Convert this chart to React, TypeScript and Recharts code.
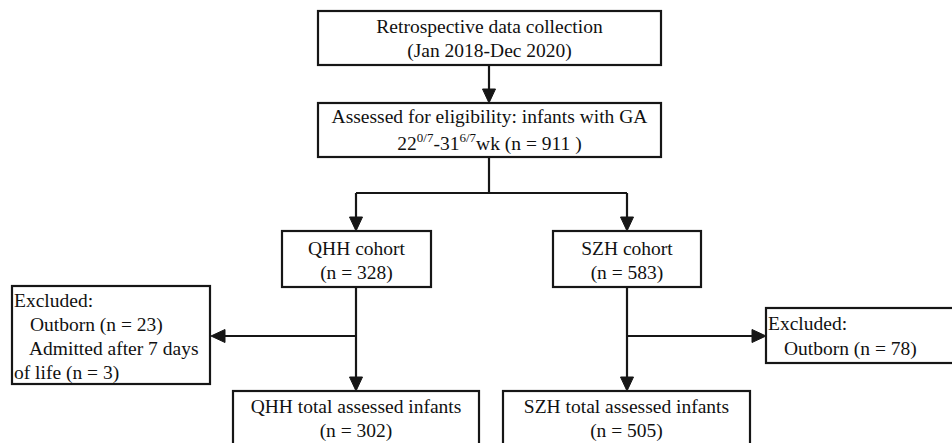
import { ScatterChart, Scatter, XAxis, YAxis, ReferenceArea, ReferenceLine } from 'recharts'

const W = 952
const H = 443
const INK = '#161616'
const FONT = 'Liberation Serif, serif'

// text of each box, one entry per line; ^{..} marks a superscript
const boxText: string[][] = [
  ['Retrospective data collection', '(Jan 2018-Dec 2020)'],
  ['Assessed for eligibility: infants with GA', '22^{0/7}-31^{6/7}wk (n = 911 )'],
  ['QHH cohort', '(n = 328)'],
  ['SZH cohort', '(n = 583)'],
  ['Excluded:', 'Outborn (n = 23)', 'Admitted after 7 days', 'of life (n = 3)'],
  ['Excluded:', 'Outborn (n = 78)'],
  ['QHH total assessed infants', '(n = 302)'],
  ['SZH total assessed infants', '(n = 505)'],
]

// box extents in chart units
const boxX: [number, number][] = [
  [318, 661], [318, 661], [282, 431], [553, 701], [12, 210], [766, 975], [233, 479], [503, 750],
]
const boxY: [number, number][] = [
  [11, 65], [103, 157], [231, 287], [231, 287], [286, 384], [308, 363], [391, 470], [391, 470],
]
const boxAlign = ['middle', 'middle', 'middle', 'middle', 'start', 'start', 'middle', 'middle']
const lineIndent: number[][] = [[], [], [], [], [2, 18, 17, 2], [2, 18], [], []]
const firstBaseline = [22, 20, 24, 24, 21, 22, 22, 22]
const lineGap = [24, 27, 24, 24, 24, 25, 24, 24]

// connector segments
const segments: [number, number, number, number][] = [
  [489, 65, 489, 95],
  [489, 157, 489, 193],
  [356, 193, 627, 193],
  [356, 193, 356, 222],
  [627, 193, 627, 222],
  [356, 287, 356, 382],
  [356, 336, 220, 336],
  [627, 287, 627, 382],
  [627, 336, 757, 336],
]

// arrow heads: tip position and direction
const arrowTips = [
  { x: 489, y: 103, dir: 'down' },
  { x: 356, y: 231, dir: 'down' },
  { x: 627, y: 231, dir: 'down' },
  { x: 211, y: 336, dir: 'left' },
  { x: 356, y: 391, dir: 'down' },
  { x: 627, y: 391, dir: 'down' },
  { x: 766, y: 336, dir: 'right' },
]

function renderLine(line: string) {
  const parts = line.split(/\^\{([^}]*)\}/)
  const out: any[] = []
  let raised = false
  parts.forEach((p, i) => {
    if (!p) return
    if (i % 2 === 1) {
      out.push(<tspan key={i} style={{ fontSize: 13 }} dy={-8}>{p}</tspan>)
      raised = true
    } else {
      out.push(<tspan key={i} dy={raised ? 8 : 0}>{p}</tspan>)
      raised = false
    }
  })
  return out
}

function BoxShape(idx: number) {
  return (props: any) => {
    const { x, y, width, height } = props
    const align = boxAlign[idx]
    const tx = align === 'middle' ? x + width / 2 : x
    return (
      <g>
        <rect x={x} y={y} width={width} height={height} fill='#fff' stroke={INK} strokeWidth={2.2} />
        {boxText[idx].map((line, li) => (
          <text
            key={li}
            x={tx + (lineIndent[idx][li] || 0)}
            y={y + firstBaseline[idx] + li * lineGap[idx]}
            textAnchor={align}
            style={{ fontFamily: FONT, fontSize: 19.5 }}
            fill='#111'
          >
            {renderLine(line)}
          </text>
        ))}
      </g>
    )
  }
}

function ArrowHead(props: any) {
  const { cx, cy, payload } = props
  const l = 14
  const w = 6.5
  let pts = ''
  if (payload.dir === 'down') pts = `${cx},${cy} ${cx - w},${cy - l} ${cx + w},${cy - l}`
  else if (payload.dir === 'left') pts = `${cx},${cy} ${cx + l},${cy - w} ${cx + l},${cy + w}`
  else pts = `${cx},${cy} ${cx - l},${cy - w} ${cx - l},${cy + w}`
  return <polygon points={pts} fill={INK} stroke={INK} strokeWidth={1} strokeLinejoin='miter' />
}

export default function App() {
  return (
    <div style={{ position: 'absolute', left: 0, top: 0, background: '#fff' }}>
      <ScatterChart width={W} height={H} margin={{ top: 0, right: 0, bottom: 0, left: 0 }}>
        <XAxis type='number' dataKey='x' domain={[0, W]} allowDataOverflow hide />
        <YAxis type='number' dataKey='y' domain={[0, H]} allowDataOverflow reversed hide />
        {segments.map((s, i) => (
          <ReferenceLine
            key={'s' + i}
            segment={[{ x: s[0], y: s[1] }, { x: s[2], y: s[3] }]}
            stroke={INK}
            strokeWidth={2.2}
            ifOverflow='visible'
          />
        ))}
        {boxText.map((_, i) => (
          <ReferenceArea
            key={'b' + i}
            x1={boxX[i][0]}
            x2={boxX[i][1]}
            y1={boxY[i][0]}
            y2={boxY[i][1]}
            ifOverflow='visible'
            shape={BoxShape(i)}
          />
        ))}
        <Scatter data={arrowTips} shape={ArrowHead} isAnimationActive={false} />
      </ScatterChart>
    </div>
  )
}
